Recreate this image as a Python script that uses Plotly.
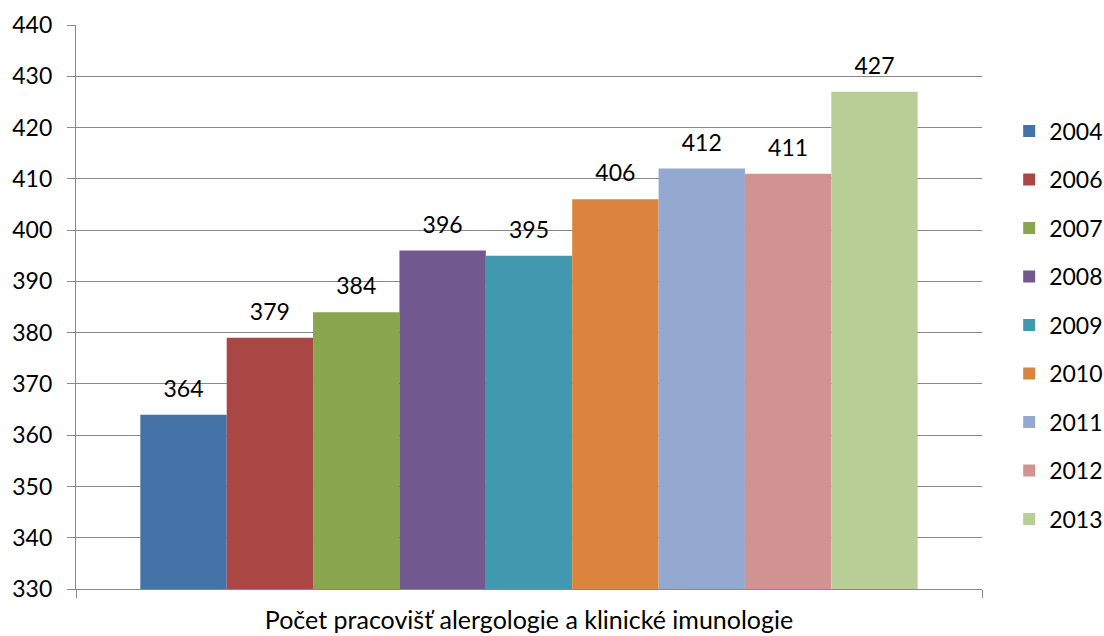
import plotly.graph_objects as go

category = ["Počet pracovišť alergologie a klinické imunologie"]
years = ["2004", "2006", "2007", "2008", "2009", "2010", "2011", "2012", "2013"]
values = [364, 379, 384, 396, 395, 406, 412, 411, 427]
colors = ["#4572A7", "#AA4643", "#89A54E", "#71588F", "#4198AF",
          "#DB843D", "#93A9CF", "#D19392", "#B9CD96"]

FONT = "Lato"
SIZE = 23
GRID = "#888888"

fig = go.Figure()
for yr, v, c in zip(years, values, colors):
    fig.add_trace(go.Bar(
        name=yr,
        x=category,
        y=[v],
        marker=dict(color=c, line=dict(width=0)),
        text=[f"<span style='font-size:{SIZE}px'>{v}</span><br>&nbsp;"],
        textposition="outside",
        textfont=dict(family=FONT, size=10, color="#000000"),
        cliponaxis=False,
        legendgroup=yr,
        hoverinfo="skip",
    ))

fig.update_layout(
    width=1104, height=636,
    margin=dict(l=76, r=122, t=25, b=47, autoexpand=False),
    paper_bgcolor="white", plot_bgcolor="white",
    barmode="group", bargap=0.142, bargroupgap=0,
    font=dict(family=FONT, size=SIZE, color="#000000"),
    showlegend=True,
    legend=dict(
        x=1.03, xanchor="left", y=0.468, yanchor="middle",
        font=dict(family=FONT, size=SIZE, color="#000000"),
        traceorder="grouped", tracegroupgap=15.6,
        bgcolor="rgba(0,0,0,0)",
    ),
)

fig.update_yaxes(
    range=[330, 440], dtick=10, tick0=330,
    showgrid=True, gridcolor=GRID, gridwidth=1.3,
    showline=True, linecolor=GRID, linewidth=1.3,
    ticks="outside", ticklen=8, tickcolor=GRID, tickwidth=1.3,
    ticklabelstandoff=10, automargin=False,
    tickfont=dict(family=FONT, size=SIZE, color="#000000"),
    zeroline=False,
)
fig.update_xaxes(
    type="category",
    showline=True, linecolor=GRID, linewidth=1.3,
    ticks="outside", ticklen=8, tickcolor=GRID, tickwidth=1.3,
    tickson="boundaries",
    ticklabelstandoff=9, automargin=False,
    tickfont=dict(family=FONT, size=25, color="#000000"),
    showgrid=False,
)

fig.write_html(
    "out.html",
    config={"displayModeBar": False},
    post_script="document.body.style.margin='0';document.body.style.padding='0';document.body.style.overflow='hidden';",
)
